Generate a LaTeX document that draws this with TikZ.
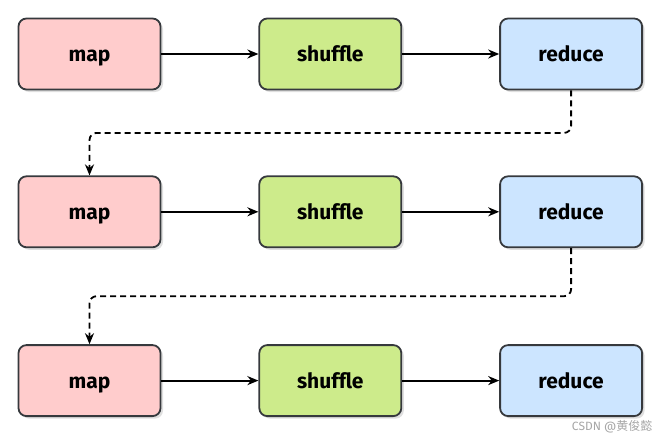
\documentclass[tikz,border=0pt]{standalone}
\usepackage{fontspec}
\setmainfont{Fira Sans}
\newfontfamily\cjk{Noto Sans CJK SC}
\usetikzlibrary{positioning,shadows,calc,arrows.meta}

\definecolor{mappink}{HTML}{FFCCCC}
\definecolor{shufgreen}{HTML}{CDEB8B}
\definecolor{redblue}{HTML}{CCE5FF}
\definecolor{edgegray}{HTML}{36393D}

\tikzset{
  stagebox/.style={rectangle, rounded corners=8pt, draw=edgegray, line width=1.8pt,
    minimum width=142pt, minimum height=71pt, text height=16pt, text depth=0pt,
    font=\fontsize{21}{23}\selectfont\bfseries,
    drop shadow={opacity=0.25, shadow xshift=2.5pt, shadow yshift=-2.5pt}},
  mapbox/.style={stagebox, fill=mappink},
  shufbox/.style={stagebox, fill=shufgreen},
  redbox/.style={stagebox, fill=redblue},
  flow/.style={-{Stealth[length=11pt, width=9pt]}, line width=1.8pt},
  loopback/.style={-{Stealth[length=11pt, width=9pt]}, line width=1.8pt,
    dash pattern=on 6pt off 4pt, rounded corners=7pt}
}

\begin{document}
\begin{tikzpicture}[x=1pt, y=1pt, node distance=97pt]

\useasboundingbox (0,0) rectangle (672,-444);

\node (map1) [mapbox] at (89.5,-54) {map};
\node (shuf1) [shufbox, right=of map1] {shuffle};
\node (red1) [redbox, right=of shuf1] {reduce};

\node (map2) [mapbox, below=85pt of map1] {map};
\node (shuf2) [shufbox, right=of map2] {shuffle};
\node (red2) [redbox, right=of shuf2] {reduce};

\node (map3) [mapbox, below=96pt of map2] {map};
\node (shuf3) [shufbox, right=of map3] {shuffle};
\node (red3) [redbox, right=of shuf3] {reduce};

\draw[flow] (map1) -- (shuf1);
\draw[flow] (shuf1) -- (red1);
\draw[flow] (map2) -- (shuf2);
\draw[flow] (shuf2) -- (red2);
\draw[flow] (map3) -- (shuf3);
\draw[flow] (shuf3) -- (red3);

\draw[loopback] (red1.south) |- ($(red1.south)!0.5!(map2.north)$) -| (map2.north);
\draw[loopback] (red2.south) |- ($(red2.south)!0.5!(map3.north)$) -| (map3.north);

\node (mark) [anchor=east, text=gray!70, font=\fontsize{12}{13}\selectfont] at (656,-427) {CSDN @{\cjk 黄俊懿}};

\end{tikzpicture}
\end{document}
